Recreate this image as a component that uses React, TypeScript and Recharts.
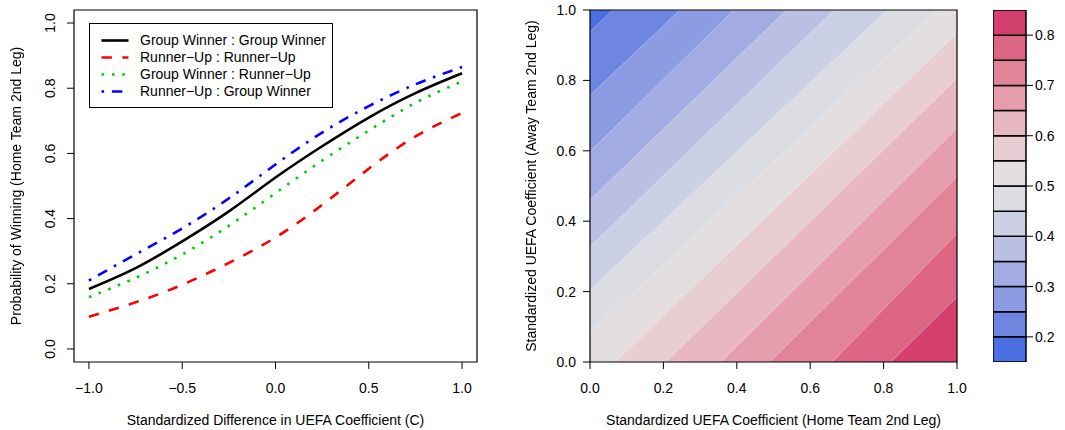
import { LineChart, Line, XAxis, YAxis, ReferenceArea, Legend, ComposedChart, Area, BarChart, Bar } from 'recharts'

// left panel: win probability vs standardized difference
const diffX = [-1, -0.75, -0.5, -0.25, 0, 0.25, 0.5, 0.75, 1]
const gwVsGw = [0.184, 0.248, 0.33, 0.422, 0.526, 0.622, 0.71, 0.785, 0.846]
const ruVsRu = [0.099, 0.143, 0.197, 0.264, 0.342, 0.442, 0.553, 0.652, 0.724]
const gwVsRu = [0.159, 0.218, 0.29, 0.378, 0.478, 0.578, 0.67, 0.755, 0.821]
const ruVsGw = [0.21, 0.29, 0.37, 0.462, 0.566, 0.664, 0.745, 0.812, 0.865]
const diffTicks = [-1, -0.5, 0, 0.5, 1]
const probTicks = [0, 0.2, 0.4, 0.6, 0.8, 1]

// right panel: contour lines, read where each meets the box edge
const contourLevels = [0.2, 0.25, 0.3, 0.35, 0.4, 0.45, 0.5, 0.55, 0.6, 0.65, 0.7, 0.75, 0.8]
const contourFromX = [0, 0, 0, 0, 0, 0, 0, 0.069, 0.207, 0.357, 0.49, 0.66, 0.82]
const contourFromY = [0.938, 0.758, 0.597, 0.46, 0.327, 0.204, 0.081, 0, 0, 0, 0, 0, 0]
const contourToX = [0.062, 0.245, 0.392, 0.535, 0.665, 0.81, 0.945, 1, 1, 1, 1, 1, 1]
const contourToY = [1, 1, 1, 1, 1, 1, 1, 0.934, 0.806, 0.664, 0.526, 0.365, 0.185]
const unitTicks = [0, 0.2, 0.4, 0.6, 0.8, 1]

// colour key
const keyLevels = [0.15, 0.2, 0.25, 0.3, 0.35, 0.4, 0.45, 0.5, 0.55, 0.6, 0.65, 0.7, 0.75, 0.8, 0.85]
const bandColors = ['#4A6FE3', '#6E86E0', '#8C9CE2', '#A3ACE2', '#BAC0E3', '#CCD0E4', '#DCDDE3',
  '#E3DEDF', '#E8CDD3', '#E7B8C2', '#E69DAE', '#E28498', '#DC6683', '#D4406D']
const keyTicks = [0.2, 0.3, 0.4, 0.5, 0.6, 0.7, 0.8]

const series = [
  { key: 'gwgw', name: 'Group Winner : Group Winner', color: '#000000', dash: undefined, values: gwVsGw },
  { key: 'ruru', name: 'Runner\u2212Up : Runner\u2212Up', color: '#FF0000', dash: '10.4 10.4', values: ruVsRu },
  { key: 'gwru', name: 'Group Winner : Runner\u2212Up', color: '#00CD00', dash: '2.6 7.8', values: gwVsRu },
  { key: 'rugw', name: 'Runner\u2212Up : Group Winner', color: '#0000FF', dash: '2.6 7.8 10.4 7.8', values: ruVsGw },
]

const lineRows = diffX.map((x, i) => {
  const row: Record<string, number> = { x }
  series.forEach(s => { row[s.key] = s.values[i] })
  return row
})

const contourAreas = contourLevels.map((lvl, i) => {
  const pts = [
    { x: contourFromX[i], y: contourFromY[i] },
    { x: contourToX[i], y: contourToY[i] },
  ]
  if (contourToY[i] === 1 && contourToX[i] < 1) pts.push({ x: 1, y: 1 })
  return { level: lvl, color: bandColors[i + 1], data: pts }
})

const keyRow: Record<string, number | string> = { name: 'key', base: keyLevels[0] }
bandColors.forEach((_, i) => { keyRow['b' + i] = keyLevels[i + 1] - keyLevels[i] })

const FONT = '"Liberation Sans", Arial, Helvetica, sans-serif'
const signed = (v: number) => (v < 0 ? '\u2212' : '') + Math.abs(v).toFixed(1)
const tickStyle = { fill: '#000', fontSize: 14, fontFamily: FONT }

function RotTick(props: any) {
  const { x, y, payload } = props
  return (
    <g transform={`translate(${x - 10},${y})`}>
      <text transform="rotate(-90)" textAnchor="middle" fontSize={14} fontFamily={FONT} fill="#000">
        {signed(payload.value)}
      </text>
    </g>
  )
}

function LegendBox() {
  return (
    <div style={{ border: '1.2px solid #000', width: 244, height: 85, boxSizing: 'border-box', background: '#fff', paddingTop: 7.5, fontFamily: FONT, fontSize: 14, color: '#000' }}>
      {series.map(s => (
        <div key={s.key} style={{ display: 'flex', alignItems: 'center', height: 17 }}>
          <svg width={50} height={17} style={{ flex: 'none' }}>
            <line x1={11.5} x2={38.5} y1={8.5} y2={8.5} stroke={s.color} strokeWidth={2.6} strokeDasharray={s.dash} />
          </svg>
          <span style={{ lineHeight: '17px', whiteSpace: 'nowrap' }}>{s.name}</span>
        </div>
      ))}
    </div>
  )
}

const title = (text: string, cx: number, cy: number, rotate: boolean) => (
  <div style={{
    position: 'absolute', left: cx - 200, top: cy - 8, width: 400, height: 16, lineHeight: '16px',
    textAlign: 'center', fontSize: 14, fontFamily: FONT, color: '#000', whiteSpace: 'nowrap',
    transform: rotate ? 'rotate(-90deg)' : undefined,
  }}>{text}</div>
)

export default function App() {
  return (
    <div style={{ position: 'fixed', left: 0, top: 0, width: 1065, height: 430, background: '#fff', fontFamily: FONT }}>
      <div style={{ position: 'absolute', left: 0, top: 0 }}>
        <LineChart width={480} height={430} data={lineRows} margin={{ top: 10, right: 3, bottom: 0, left: 0 }}>
          <XAxis dataKey="x" type="number" domain={[-1.08, 1.08]} ticks={diffTicks} tickFormatter={signed}
            axisLine={false} tickSize={7} tickMargin={14} height={68} tick={tickStyle}
            tickLine={{ stroke: '#000' }} interval={0} />
          <YAxis type="number" domain={[-0.04, 1.04]} ticks={probTicks} width={74} axisLine={false}
            tickSize={7} tickMargin={2} tick={(p: any) => <RotTick {...p} />} tickLine={{ stroke: '#000' }} interval={0} />
          {series.map(s => (
            <Line key={s.key} dataKey={s.key} name={s.name} type="natural" stroke={s.color} strokeWidth={2.6}
              strokeDasharray={s.dash} dot={false} activeDot={false} isAnimationActive={false} />
          ))}
          <ReferenceArea x1={-1.08} x2={1.08} y1={-0.04} y2={1.04} fill="none" stroke="#000" strokeWidth={1.2} />
          <Legend content={() => <LegendBox />} layout="vertical" align="center" verticalAlign="middle"
            wrapperStyle={{ left: 89, top: 23, width: 244, height: 85 }} />
        </LineChart>
      </div>

      <div style={{ position: 'absolute', left: 500, top: 0 }}>
        <ComposedChart width={480} height={430} margin={{ top: 10, right: 23, bottom: 0, left: 0 }}>
          <XAxis dataKey="x" type="number" domain={[0, 1]} ticks={unitTicks} tickFormatter={(v: number) => v.toFixed(1)}
            axisLine={false} tickSize={7} tickMargin={14} height={68} tick={tickStyle}
            tickLine={{ stroke: '#000' }} interval={0} allowDataOverflow />
          <YAxis dataKey="y" type="number" domain={[0, 1]} ticks={unitTicks} tickFormatter={(v: number) => v.toFixed(1)}
            width={90} axisLine={false} tickSize={7} tickMargin={7} tick={tickStyle}
            tickLine={{ stroke: '#000' }} interval={0} allowDataOverflow />
          <Area data={[{ x: 0, y: 1 }, { x: 1, y: 1 }]} dataKey="y" type="linear" fill={bandColors[0]} fillOpacity={1}
            stroke="none" isAnimationActive={false} activeDot={false} />
          {contourAreas.map(a => (
            <Area key={a.level} data={a.data} dataKey="y" type="linear" fill={a.color} fillOpacity={1}
              stroke="#ffffff" strokeOpacity={0.45} strokeWidth={0.7} isAnimationActive={false} activeDot={false} />
          ))}
          <ReferenceArea x1={0} x2={1} y1={0} y2={1} fill="none" stroke="#000" strokeWidth={1.2} />
        </ComposedChart>
      </div>

      <div style={{ position: 'absolute', left: 993, top: 0 }}>
        <BarChart width={72} height={430} data={[keyRow]} margin={{ top: 10, right: 0, bottom: 68, left: 0 }} barCategoryGap={0}>
          <XAxis dataKey="name" hide />
          <YAxis orientation="right" type="number" domain={[keyLevels[0], keyLevels[keyLevels.length - 1]]} ticks={keyTicks}
            tickFormatter={(v: number) => v.toFixed(1)} width={39} axisLine={false} tickSize={7} tickMargin={2}
            tick={tickStyle} tickLine={{ stroke: '#000' }} interval={0} allowDataOverflow />
          <Bar dataKey="base" stackId="k" fill="none" isAnimationActive={false} />
          {bandColors.map((c, i) => (
            <Bar key={i} dataKey={'b' + i} stackId="k" fill={c} stroke="#000" strokeWidth={1.5} isAnimationActive={false} />
          ))}
        </BarChart>
      </div>

      {title('Standardized Difference in UEFA Coefficient (C)', 275.5, 420, false)}
      {title('Probability of Winning (Home Team 2nd Leg)', 15.5, 186, true)}
      {title('Standardized UEFA Coefficient (Home Team 2nd Leg)', 773.5, 420, false)}
      {title('Standardized UEFA Coefficient (Away Team 2nd Leg)', 530.5, 186, true)}
    </div>
  )
}
